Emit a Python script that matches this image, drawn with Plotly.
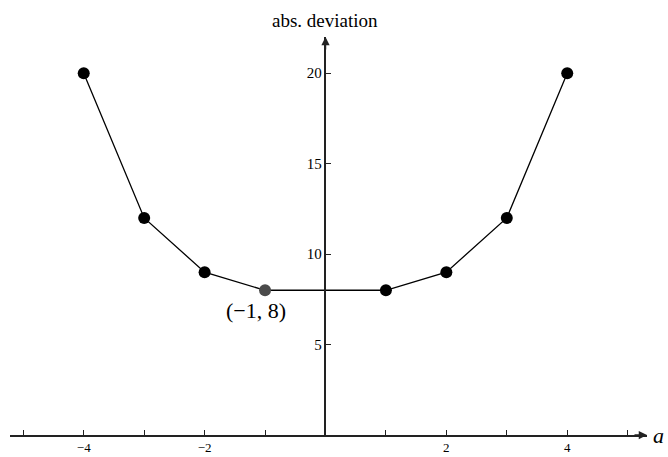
import plotly.graph_objects as go

# data
a_vals = [-4, -3, -2, -1, 1, 2, 3, 4]
abs_dev = [20, 12, 9, 8, 8, 9, 12, 20]
point_colors = ["black", "black", "black", "#4a4a4a", "black", "black", "black", "black"]

x_ticks = [-5, -4, -3, -2, -1, 0, 1, 2, 3, 4, 5]
x_ticktext = ["", "\u22124", "", "\u22122", "", "", "", "2", "", "4", ""]
y_ticks = [5, 10, 15, 20]

x_min, x_max = -5.22, 5.32
y_min, y_max = 0, 22.0

serif = "Liberation Serif, Times New Roman, serif"

trace = go.Scatter(
    x=a_vals,
    y=abs_dev,
    mode="lines+markers",
    line=dict(color="black", width=1.3),
    marker=dict(color=point_colors, size=12),
    showlegend=False,
    hoverinfo="x+y",
)

fig = go.Figure(data=[trace])

fig.update_layout(
    width=668,
    height=457,
    margin=dict(l=10, r=21, t=37, b=22),
    paper_bgcolor="white",
    plot_bgcolor="white",
    font=dict(family=serif, size=14, color="black"),
    xaxis=dict(
        range=[x_min, x_max],
        showgrid=False,
        zeroline=False,
        showline=True,
        linecolor="#222",
        linewidth=1.5,
        ticks="inside",
        ticklen=5,
        tickcolor="#222",
        tickvals=x_ticks,
        ticktext=x_ticktext,
        tickfont=dict(size=13),
        automargin=False,
    ),
    yaxis=dict(
        range=[y_min, y_max],
        showgrid=False,
        zeroline=False,
        showline=True,
        linecolor="#222",
        linewidth=1.5,
        ticks="inside",
        ticklen=5,
        tickcolor="#222",
        tickvals=y_ticks,
        tickfont=dict(size=15),
        anchor="free",
        position=(0 - x_min) / (x_max - x_min),
        automargin=False,
    ),
)

# arrow heads on the axes
fig.add_annotation(x=x_max, y=0, xref="x", yref="y", ax=-14, ay=0, text="",
                   showarrow=True, arrowhead=2, arrowsize=1.1, arrowwidth=1.5, arrowcolor="#222")
fig.add_annotation(x=0, y=y_max, xref="x", yref="y", ax=0, ay=14, text="",
                   showarrow=True, arrowhead=2, arrowsize=1.1, arrowwidth=1.5, arrowcolor="#222")

# axis labels
fig.add_annotation(x=0, y=y_max, xref="x", yref="y", yshift=4, yanchor="bottom",
                   text="abs. deviation", showarrow=False, font=dict(size=19))
fig.add_annotation(x=x_max, y=0, xref="x", yref="y", xshift=4, xanchor="left",
                   text="<i>a</i>", showarrow=False, font=dict(size=22))

# minimum point label
fig.add_annotation(x=-1.15, y=6.9, xref="x", yref="y", text="(\u22121, 8)",
                   showarrow=False, font=dict(size=22))

# drop the browser's default body margin so the figure sits at the top-left corner
fig.write_html("out.html", config={"displayModeBar": False},
               post_script="document.body.style.margin='0';")
